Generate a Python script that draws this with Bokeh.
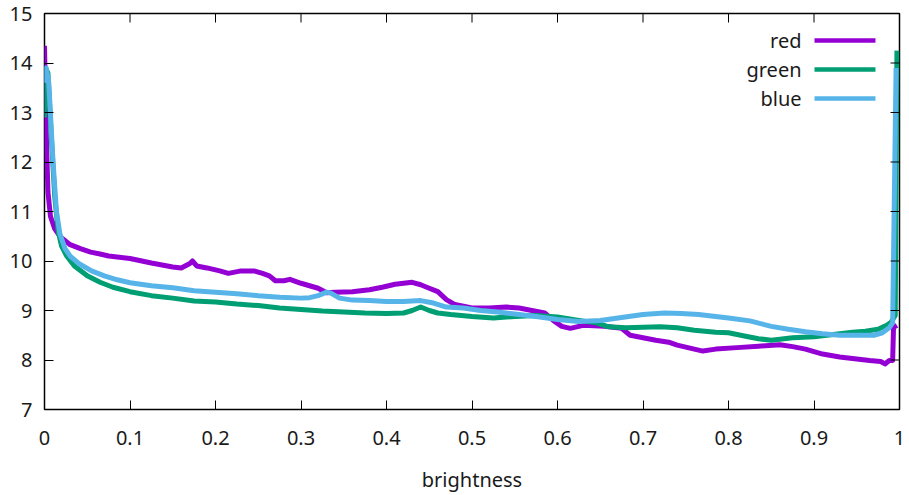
from bokeh.plotting import figure
from bokeh.models import Range1d, FixedTicker, Label, BoxAnnotation
from bokeh.embed import file_html
from bokeh.resources import INLINE

# ---- data ----
red_x = [0, 0.002, 0.004, 0.007, 0.012, 0.019, 0.03, 0.042, 0.054, 0.065, 0.075, 0.1, 0.125,
         0.15, 0.16, 0.17, 0.173, 0.178, 0.19, 0.205, 0.215, 0.23, 0.245, 0.255, 0.263, 0.27,
         0.28, 0.287, 0.3, 0.31, 0.32, 0.33, 0.34, 0.36, 0.38, 0.395, 0.41, 0.43, 0.44, 0.45,
         0.46, 0.47, 0.48, 0.5, 0.52, 0.54, 0.555, 0.57, 0.585, 0.595, 0.605, 0.615, 0.63,
         0.655, 0.675, 0.685, 0.7, 0.715, 0.73, 0.74, 0.755, 0.77, 0.785, 0.81, 0.835, 0.86,
         0.875, 0.89, 0.91, 0.93, 0.95, 0.965, 0.978, 0.983, 0.988, 0.992, 0.993, 0.997]
red_y = [14.35, 12.6, 11.4, 10.9, 10.65, 10.48, 10.33, 10.25, 10.18, 10.14, 10.1, 10.05, 9.96,
         9.88, 9.86, 9.95, 10.0, 9.9, 9.86, 9.8, 9.75, 9.8, 9.8, 9.75, 9.7, 9.6,
         9.6, 9.63, 9.55, 9.5, 9.45, 9.36, 9.37, 9.38, 9.42, 9.47, 9.53, 9.57, 9.52, 9.45,
         9.38, 9.22, 9.12, 9.05, 9.05, 9.07, 9.05, 9.0, 8.95, 8.8, 8.68, 8.64, 8.7,
         8.68, 8.64, 8.5, 8.45, 8.4, 8.36, 8.3, 8.24, 8.18, 8.22, 8.25, 8.28, 8.31,
         8.27, 8.22, 8.12, 8.06, 8.02, 7.99, 7.97, 7.92, 7.99, 7.99, 8.66, 8.7]

green_x = [0, 0.001, 0.004, 0.008, 0.012, 0.016, 0.02, 0.026, 0.035, 0.05, 0.065, 0.08, 0.1,
           0.125, 0.15, 0.175, 0.2, 0.225, 0.25, 0.275, 0.3, 0.325, 0.35, 0.375, 0.4, 0.42,
           0.43, 0.44, 0.45, 0.46, 0.475, 0.5, 0.525, 0.55, 0.575, 0.6, 0.625, 0.645, 0.66,
           0.68, 0.7, 0.72, 0.74, 0.76, 0.785, 0.8, 0.82, 0.835, 0.85, 0.875, 0.9, 0.925,
           0.945, 0.96, 0.975, 0.985, 0.99, 0.995, 0.997]
green_y = [12.9, 13.9, 13.8, 12.5, 11.3, 10.6, 10.3, 10.1, 9.9, 9.7, 9.57, 9.47, 9.38,
           9.3, 9.25, 9.19, 9.17, 9.13, 9.1, 9.05, 9.02, 8.99, 8.97, 8.95, 8.94, 8.95,
           9.0, 9.07, 9.0, 8.95, 8.92, 8.88, 8.85, 8.88, 8.9, 8.87, 8.8, 8.75, 8.67,
           8.65, 8.66, 8.67, 8.65, 8.6, 8.56, 8.55, 8.48, 8.43, 8.4, 8.45, 8.47, 8.52,
           8.56, 8.58, 8.62, 8.7, 8.76, 8.9, 14.25]

blue_x = [0, 0.002, 0.005, 0.01, 0.014, 0.018, 0.024, 0.03, 0.04, 0.055, 0.07, 0.085, 0.1,
          0.125, 0.15, 0.175, 0.2, 0.225, 0.25, 0.275, 0.3, 0.31, 0.32, 0.33, 0.335, 0.345,
          0.36, 0.38, 0.4, 0.42, 0.44, 0.455, 0.47, 0.49, 0.51, 0.53, 0.55, 0.575, 0.6,
          0.625, 0.65, 0.675, 0.7, 0.725, 0.745, 0.765, 0.8, 0.825, 0.85, 0.87, 0.89, 0.91,
          0.93, 0.95, 0.97, 0.98, 0.988, 0.992, 0.996]
blue_y = [13.6, 13.9, 13.6, 12.0, 11.0, 10.55, 10.25, 10.1, 9.95, 9.8, 9.7, 9.62, 9.56,
          9.5, 9.46, 9.4, 9.37, 9.34, 9.3, 9.27, 9.25, 9.26, 9.3, 9.37, 9.35, 9.25,
          9.21, 9.2, 9.18, 9.18, 9.2, 9.15, 9.07, 9.05, 9.0, 8.97, 8.93, 8.88, 8.82,
          8.78, 8.8, 8.86, 8.92, 8.95, 8.94, 8.92, 8.85, 8.79, 8.68, 8.62, 8.57, 8.53,
          8.5, 8.5, 8.5, 8.55, 8.65, 8.75, 13.9]

series_names = ["red", "green", "blue"]
series_colors = ["#9400D3", "#009E73", "#56B4E9"]

x_ticks = [0, 0.1, 0.2, 0.3, 0.4, 0.5, 0.6, 0.7, 0.8, 0.9, 1]
x_tick_labels = ["0", "0.1", "0.2", "0.3", "0.4", "0.5", "0.6", "0.7", "0.8", "0.9", "1"]
y_ticks = [7, 8, 9, 10, 11, 12, 13, 14, 15]
x_label = "brightness"

FONT = "Noto Sans"
FS = "20px"
TEXT_COLOR = "#1a1a1a"

X0, X1, Y0, Y1 = 0, 1, 7, 15
FRAME_W, FRAME_H = 855, 396

p = figure(width=909, height=495, output_backend="svg", toolbar_location=None,
           x_range=Range1d(X0, X1), y_range=Range1d(Y0, Y1),
           min_border_left=44, min_border_right=10, min_border_top=13, min_border_bottom=86)
p.grid.visible = False
p.outline_line_color = "black"
p.outline_line_width = 1.5
p.background_fill_color = "white"
p.border_fill_color = "white"

renderers = []
for xs, ys, c in zip([red_x, green_x, blue_x], [red_y, green_y, blue_y], series_colors):
    renderers.append(p.line(xs, ys, line_color=c, line_width=5, line_join="round"))

xt = FixedTicker(ticks=x_ticks, minor_ticks=[])
yt = FixedTicker(ticks=y_ticks, minor_ticks=[])

for ax in p.xaxis:
    ax.ticker = xt
    ax.major_label_overrides = {t: l for t, l in zip(x_ticks, x_tick_labels)}
    ax.axis_label = x_label
for ax in p.yaxis:
    ax.ticker = yt

for ax in list(p.xaxis) + list(p.yaxis):
    ax.major_tick_in = 9
    ax.major_tick_out = 0
    ax.minor_tick_in = 0
    ax.minor_tick_out = 0
    ax.axis_line_color = None
    ax.major_tick_line_color = "black"
    ax.major_tick_line_width = 1
    ax.major_label_text_font = FONT
    ax.major_label_text_font_size = FS
    ax.major_label_text_color = TEXT_COLOR
    ax.axis_label_text_font = FONT
    ax.axis_label_text_font_size = FS
    ax.axis_label_text_font_style = "normal"
    ax.axis_label_text_color = TEXT_COLOR

p.xaxis.major_label_standoff = 21
p.xaxis.axis_label_standoff = 18
p.yaxis.major_label_standoff = 12

# mirrored ticks on the top and right border (gnuplot style), from the tick lists
tick_len_y = 9 * (Y1 - Y0) / FRAME_H
tick_len_x = 9 * (X1 - X0) / FRAME_W
p.segment(x0=x_ticks, y0=[Y1] * len(x_ticks), x1=x_ticks, y1=[Y1 - tick_len_y] * len(x_ticks),
          line_color="black", line_width=1)
p.segment(x0=[X1] * len(y_ticks), y0=y_ticks, x1=[X1 - tick_len_x] * len(y_ticks), y1=y_ticks,
          line_color="black", line_width=1)

# key (gnuplot style: right-aligned label, then a line sample)
key_text_x = 0.8854
key_line_x0, key_line_x1 = 0.9006, 0.9719
key_y = [14.455, 13.869, 13.283]
half_th = 2.3 * (Y1 - Y0) / FRAME_H
for name, c, ky in zip(series_names, series_colors, key_y):
    p.add_layout(Label(x=key_text_x, y=ky, text=name, text_align="right", text_baseline="middle",
                       text_font=FONT, text_font_size=FS, text_color=TEXT_COLOR))
    p.add_layout(BoxAnnotation(left=key_line_x0, right=key_line_x1, bottom=ky - half_th,
                               top=ky + half_th, fill_color=c, fill_alpha=1, line_color=None))

open("out.html", "w").write(file_html(p, INLINE))
